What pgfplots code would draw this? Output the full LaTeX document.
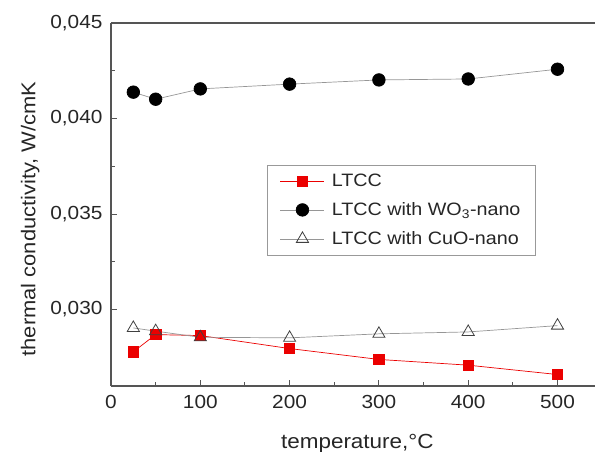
\documentclass[border=0pt]{standalone}
\usepackage{fontspec}
\setmainfont{Liberation Sans}[FakeStretch=1.1]
\usepackage{pgfplots}
\pgfplotsset{compat=1.18}
\definecolor{axisgray}{RGB}{85,85,85}
\definecolor{ltccred}{RGB}{235,0,0}
\definecolor{linegray}{RGB}{150,150,150}

\begin{document}
\begin{tikzpicture}[x=1bp,y=1bp]
\useasboundingbox (0,0) rectangle (595,452);
\begin{axis}[
    at={(111bp,66bp)}, anchor=south west,
    scale only axis, width=484bp, height=363bp,
    xmin=0, xmax=542, ymin=0.026, ymax=0.045,
    axis x line*=bottom, axis y line*=left,
    axis line style={axisgray, line width=1.3pt},
    tick align=inside,
    major tick length=6bp, minor tick length=4bp,
    every tick/.style={axisgray, line width=1pt},
    xtick={0,100,200,300,400,500},
    minor x tick num=1,
    ytick={0.030,0.035,0.040,0.045},
    minor y tick num=1,
    scaled y ticks=false,
    /pgf/number format/assume math mode=true,
    tick label style={font=\fontsize{19}{19}\selectfont, text=black!85},
    xticklabel style={yshift=-6bp},
    yticklabel style={xshift=-5bp, /pgf/number format/.cd, fixed, fixed zerofill, precision=3, use comma},
    xlabel={temperature,°C},
    ylabel={thermal conductivity, W/cmK},
    every axis x label/.style={at={(axis description cs:0.509,-0.158)}, anchor=center,
        font=\fontsize{20.5}{20.5}\selectfont, text=black!85},
    every axis y label/.style={at={(axis description cs:-0.167,0.46)}, rotate=90, anchor=center,
        font=\fontsize{20}{20}\selectfont, text=black!85},
    legend style={at={(axis description cs:0.322,0.609)}, anchor=north west,
        draw=black!40, line width=0.5pt, fill=white,
        font=\fontsize{18}{18}\selectfont, text=black!85,
        row sep=10.5bp, inner xsep=13bp, inner ysep=7bp,
        /tikz/every odd column/.style={column sep=5bp}},
    legend cell align=left,
    legend image code/.code={
        \draw[mark repeat=2, mark phase=2] plot coordinates {(0bp,0bp) (22bp,0bp) (44bp,0bp)};
    },
    clip=false,
]
\draw[axisgray, line width=1.3pt] (rel axis cs:0,1) -- (rel axis cs:1,1);

\addplot[ltccred, line width=0.7pt, mark=square*, mark size=5.2bp,
    mark options={fill=ltccred, draw=ltccred}] coordinates {
    (25, 0.02779) (50, 0.02869) (100, 0.02864) (200, 0.02796)
    (300, 0.02739) (400, 0.02709) (500, 0.02660)
};
\addlegendentry{LTCC}

\addplot[linegray, line width=0.7pt, mark=*, mark size=6.3bp,
    mark options={fill=black, draw=black}] coordinates {
    (25, 0.04138) (50, 0.04101) (100, 0.04155) (200, 0.04180)
    (300, 0.04202) (400, 0.04207) (500, 0.04258)
};
\addlegendentry{LTCC with WO\textsubscript{3}-nano}

\addplot[linegray, line width=0.7pt, mark=triangle, mark size=7bp,
    mark options={fill=white, draw=black!75, line width=0.8pt}] coordinates {
    (25, 0.02904) (50, 0.02887) (100, 0.02855) (200, 0.02852)
    (300, 0.02873) (400, 0.02883) (500, 0.02916)
};
\addlegendentry{LTCC with CuO-nano}
\end{axis}
\end{tikzpicture}
\end{document}
